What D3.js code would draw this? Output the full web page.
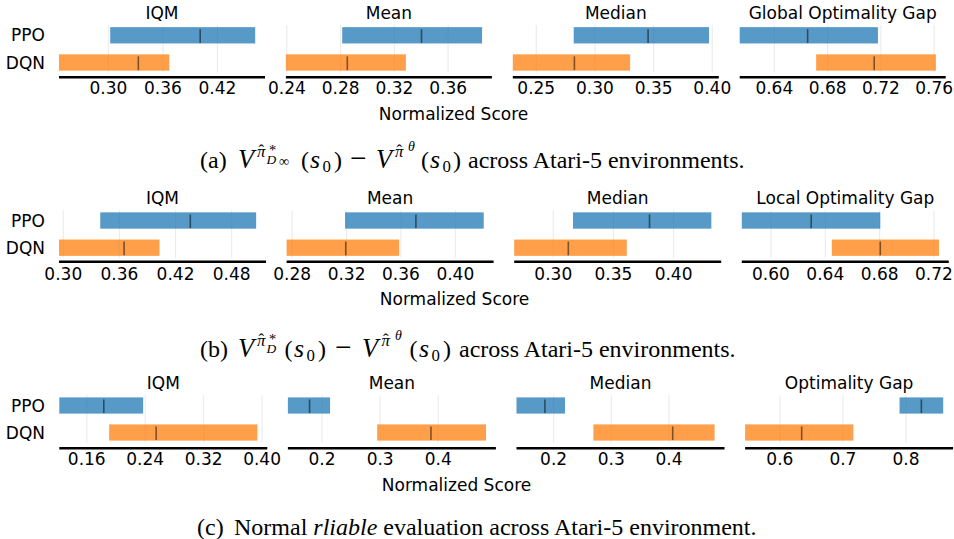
<!DOCTYPE html>
<html>
<head>
<meta charset="utf-8">
<script src="https://cdn.jsdelivr.net/npm/d3@7"></script>
<style>
  body { margin: 0; background: #fff; }
  svg { display: block; }
</style>
</head>
<body>
<div id="chart"></div>
<script>
// ---- data ----
var algorithms = ["PPO", "DQN"];

var metricsA = ["IQM", "Mean", "Median", "Global Optimality Gap"];
var metricsB = ["IQM", "Mean", "Median", "Local Optimality Gap"];
var metricsC = ["IQM", "Mean", "Median", "Optimality Gap"];

// (a) V^{pi*_Dinf} - V^{pi theta}
var ppoLowA  = [0.302, 0.2812, 0.2819, 0.614];
var ppoMedA  = [0.401, 0.3402, 0.3453, 0.665];
var ppoHighA = [0.4615, 0.3853, 0.3972, 0.7178];
var dqnLowA  = [0.2457, 0.2393, 0.2300, 0.6714];
var dqnMedA  = [0.333, 0.285, 0.2825, 0.715];
var dqnHighA = [0.367, 0.3286, 0.330, 0.7613];

// (b) V^{pi*_D} - V^{pi theta}
var ppoLowB  = [0.3395, 0.3189, 0.3164, 0.5785];
var ppoMedB  = [0.4358, 0.3710, 0.3800, 0.6296];
var ppoHighB = [0.5062, 0.4209, 0.4314, 0.6805];
var dqnLowB  = [0.2954, 0.2759, 0.2675, 0.6448];
var dqnMedB  = [0.365, 0.3194, 0.3125, 0.6805];
var dqnHighB = [0.4029, 0.3587, 0.3611, 0.7237];

// (c) normal rliable evaluation
var ppoLowC  = [0.1224, 0.1412, 0.1357, 0.7898];
var ppoMedC  = [0.1833, 0.1785, 0.1849, 0.8244];
var ppoHighC = [0.2372, 0.2138, 0.2197, 0.8590];
var dqnLowC  = [0.1906, 0.2948, 0.2689, 0.5449];
var dqnMedC  = [0.255, 0.3874, 0.4063, 0.6346];
var dqnHighC = [0.3936, 0.4822, 0.4789, 0.7165];

var tickLabelsA = [["0.30","0.36","0.42"], ["0.24","0.28","0.32","0.36"], ["0.25","0.30","0.35","0.40"], ["0.64","0.68","0.72","0.76"]];
var tickLabelsB = [["0.30","0.36","0.42","0.48"], ["0.28","0.32","0.36","0.40"], ["0.30","0.35","0.40"], ["0.60","0.64","0.68","0.72"]];
var tickLabelsC = [["0.16","0.24","0.32","0.40"], ["0.2","0.3","0.4"], ["0.2","0.3","0.4"], ["0.6","0.7","0.8"]];

var colors = ["#1f77b4", "#ff7f0e"];

var svg = d3.select("#chart").append("svg")
    .attr("width", 954)
    .attr("height", 539);

var sans = "DejaVu Sans, sans-serif";
var serif = "Liberation Serif, Times New Roman, serif";

function drawRow(cfg) {
  var g = svg.append("g");
  var y = d3.scaleLinear().domain([0, 1]).range([cfg.ppoY, cfg.ppoY + cfg.unit]);
  var h = 0.6;

  cfg.metrics.forEach(function(metric, i) {
    var lows = [cfg.low[0][i], cfg.low[1][i]],
        meds = [cfg.med[0][i], cfg.med[1][i]],
        highs = [cfg.high[0][i], cfg.high[1][i]];
    var lo = d3.min(lows), hi = d3.max(highs);
    var x0 = cfg.left + i * cfg.step;
    // left edge sticks to the lowest bar, 5% margin on the right (matplotlib)
    var x = d3.scaleLinear()
        .domain([lo, hi + 0.05 * (hi - lo)])
        .range([x0, x0 + cfg.width]);
    var p = g.append("g");

    // grid
    p.selectAll("line.grid").data(cfg.ticks[i]).enter().append("line")
      .attr("x1", function(d) { return x(+d); })
      .attr("x2", function(d) { return x(+d); })
      .attr("y1", y(-0.38)).attr("y2", y(1.38))
      .attr("stroke", "#b0b0b0").attr("stroke-opacity", 0.25)
      .attr("stroke-width", 1.1);

    // bars
    p.selectAll("rect").data(algorithms).enter().append("rect")
      .attr("x", function(d, j) { return x(lows[j]); })
      .attr("width", function(d, j) { return x(highs[j]) - x(lows[j]); })
      .attr("y", function(d, j) { return y(j - h / 2); })
      .attr("height", y(h) - y(0))
      .attr("fill", function(d, j) { return colors[j]; })
      .attr("fill-opacity", 0.75);

    // median ticks
    p.selectAll("line.med").data(algorithms).enter().append("line")
      .attr("x1", function(d, j) { return x(meds[j]); })
      .attr("x2", function(d, j) { return x(meds[j]); })
      .attr("y1", function(d, j) { return y(j - 6 * h / 16); })
      .attr("y2", function(d, j) { return y(j + 7.5 * h / 16); })
      .attr("stroke", "#000").attr("stroke-opacity", 0.5)
      .attr("stroke-width", 1.6);

    // bottom spine
    p.append("line")
      .attr("x1", x0).attr("x2", x0 + cfg.width)
      .attr("y1", cfg.spineY).attr("y2", cfg.spineY)
      .attr("stroke", "#000").attr("stroke-width", 2.6);

    // tick labels
    p.selectAll("text.tick").data(cfg.ticks[i]).enter().append("text")
      .attr("x", function(d) { return x(+d); })
      .attr("y", cfg.tickY)
      .attr("text-anchor", "middle")
      .attr("font-family", sans).attr("font-size", 17)
      .text(function(d) { return d; });

    // title
    p.append("text")
      .attr("x", x0 + cfg.width / 2).attr("y", cfg.titleY)
      .attr("text-anchor", "middle")
      .attr("font-family", sans).attr("font-size", 17)
      .text(metric);

    if (i == 0) {
      p.selectAll("text.alg").data(algorithms).enter().append("text")
        .attr("x", 45)
        .attr("y", function(d, j) { return y(j) + 6; })
        .attr("text-anchor", "end")
        .attr("font-family", sans).attr("font-size", 17)
        .text(function(d) { return d; });
    }
  });

  g.append("text")
    .attr("x", cfg.xlabelX).attr("y", cfg.xlabelY)
    .attr("text-anchor", "middle")
    .attr("font-family", sans).attr("font-size", 17)
    .text("Normalized Score");
}

// caption pieces: t text, x absolute x, it italic, s size factor, r rise (px, up)
function caption(yp, pieces) {
  var base = 24;
  var t = svg.append("text")
    .attr("y", yp)
    .attr("font-family", serif).attr("font-size", base)
    .attr("xml:space", "preserve");
  var rise = 0;
  pieces.forEach(function(pc) {
    var r = pc.r || 0;
    var sp = t.append("tspan")
      .attr("dy", rise - r)
      .attr("font-size", base * (pc.s || 1))
      .attr("font-style", pc.it ? "italic" : "normal")
      .text(pc.t);
    if (pc.x != null) sp.attr("x", pc.x);
    rise = r;
  });
}

drawRow({
  metrics: metricsA,
  low: [ppoLowA, dqnLowA], med: [ppoMedA, dqnMedA], high: [ppoHighA, dqnHighA],
  ticks: tickLabelsA,
  left: 59, step: 226.9, width: 206,
  ppoY: 35.3, unit: 27.2, spineY: 77.3, titleY: 19.3, tickY: 94.3,
  xlabelX: 453.5, xlabelY: 120
});

drawRow({
  metrics: metricsB,
  low: [ppoLowB, dqnLowB], med: [ppoMedB, dqnMedB], high: [ppoHighB, dqnHighB],
  ticks: tickLabelsB,
  left: 59, step: 227.6, width: 207,
  ppoY: 220.5, unit: 27.2, spineY: 261.7, titleY: 204, tickY: 280,
  xlabelX: 454.5, xlabelY: 305
});

drawRow({
  metrics: metricsC,
  low: [ppoLowC, dqnLowC], med: [ppoMedC, dqnMedC], high: [ppoHighC, dqnHighC],
  ticks: tickLabelsC,
  left: 59.3, step: 228.6, width: 208,
  ppoY: 405.5, unit: 27, spineY: 448.3, titleY: 389.3, tickY: 465,
  xlabelX: 456.5, xlabelY: 490.7
});

caption(167.5, [
  {t: "(a)", x: 200},
  {t: "V", it: true, s: 1.1, x: 238},
  {t: "\u03c0", it: true, s: 0.7, x: 257, r: 11},
  {t: "\u02c6", s: 0.7, x: 258.5, r: 12},
  {t: "*", s: 0.6, x: 269, r: 13},
  {t: "D", it: true, s: 0.56, x: 266.5, r: 4},
  {t: "\u221e", s: 0.6, x: 279, r: 2},
  {t: "(", x: 301},
  {t: "s", it: true, s: 1.08, x: 310},
  {t: "0", s: 0.7, x: 322.5, r: -4},
  {t: ")", x: 334},
  {t: "\u2212", s: 1.22, x: 350},
  {t: "V", it: true, s: 1.1, x: 376},
  {t: "\u03c0", it: true, s: 0.7, x: 395, r: 11},
  {t: "\u02c6", s: 0.7, x: 396.5, r: 12},
  {t: "\u03b8", it: true, s: 0.58, x: 408, r: 17},
  {t: "(", x: 421},
  {t: "s", it: true, s: 1.08, x: 430},
  {t: "0", s: 0.7, x: 442.5, r: -4},
  {t: ")", x: 453},
  {t: "across Atari-5 environments.", x: 468}
]);

caption(356.5, [
  {t: "(b)", x: 200},
  {t: "V", it: true, s: 1.1, x: 238},
  {t: "\u03c0", it: true, s: 0.7, x: 257, r: 11},
  {t: "\u02c6", s: 0.7, x: 258.5, r: 12},
  {t: "*", s: 0.6, x: 269, r: 13},
  {t: "D", it: true, s: 0.56, x: 266.5, r: 4},
  {t: "(", x: 284.5},
  {t: "s", it: true, s: 1.08, x: 294},
  {t: "0", s: 0.7, x: 306.5, r: -4},
  {t: ")", x: 318},
  {t: "\u2212", s: 1.22, x: 335},
  {t: "V", it: true, s: 1.1, x: 362},
  {t: "\u03c0", it: true, s: 0.7, x: 381.5, r: 11},
  {t: "\u02c6", s: 0.7, x: 383, r: 12},
  {t: "\u03b8", it: true, s: 0.58, x: 395, r: 17},
  {t: "(", x: 409.5},
  {t: "s", it: true, s: 1.08, x: 419},
  {t: "0", s: 0.7, x: 431.5, r: -4},
  {t: ")", x: 443},
  {t: "across Atari-5 environments.", x: 459}
]);

caption(535, [
  {t: "(c)", x: 197},
  {t: "Normal ", x: 234},
  {t: "rliable", it: true},
  {t: " evaluation across Atari-5 environment."}
]);
</script>
</body>
</html>
